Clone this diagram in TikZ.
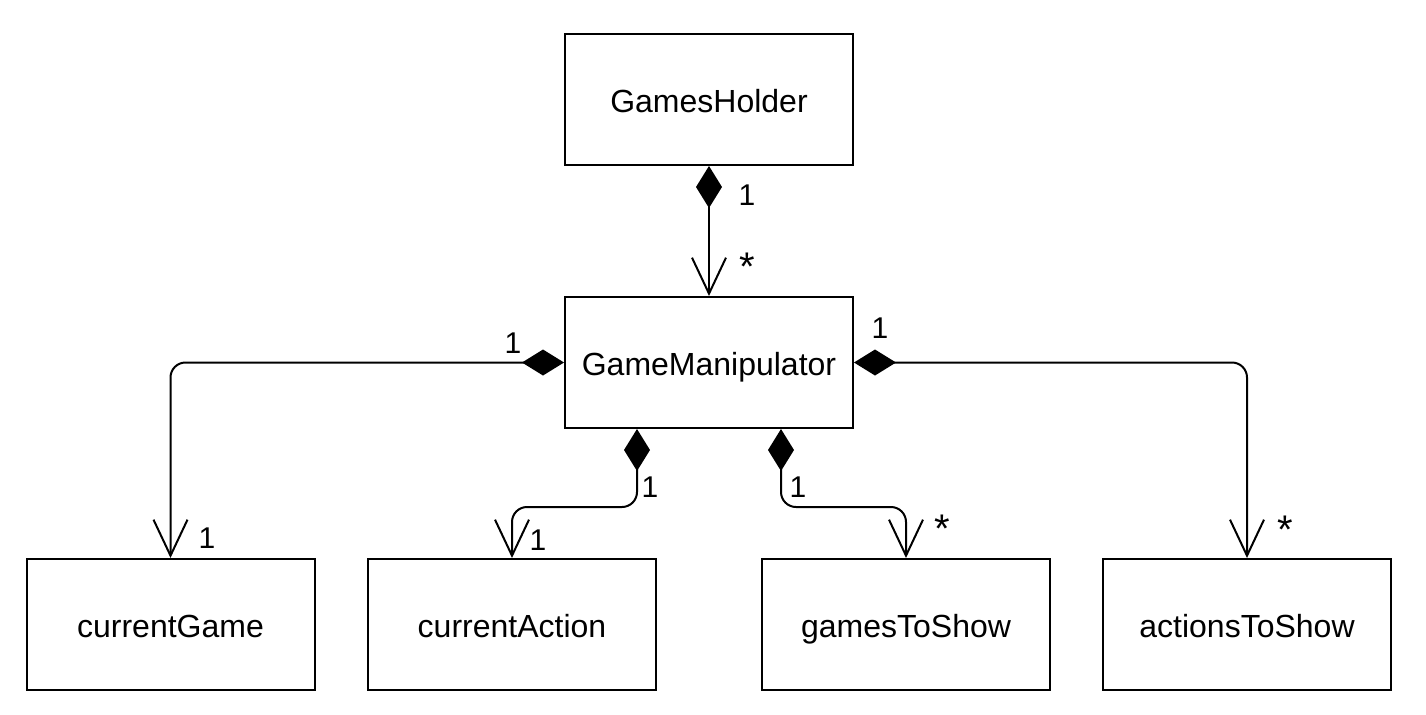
\documentclass[tikz,border=0pt]{standalone}
\usepackage{fontspec}
\setmainfont{Liberation Sans}
\usetikzlibrary{arrows.meta}
\begin{document}
\begin{tikzpicture}[x=0.5pt,y=-0.5pt,
  cls/.style={draw,line width=1pt,minimum width=144pt,minimum height=65.5pt,inner sep=0pt,text height=12.5pt,text depth=0pt,font=\fontsize{16}{19}\selectfont},
  comp/.style={line width=1pt,rounded corners=7.5pt,
    {Diamond[length=21pt,width=13pt,line width=0pt]}-{Straight Barb[length=18pt,width=17pt,line width=1pt]}},
  mult/.style={anchor=base,inner sep=0pt,font=\fontsize{15}{18}\selectfont},
  many/.style={anchor=base,inner sep=0pt,font=\fontsize{20}{24}\selectfont}]
\useasboundingbox (0,0) rectangle (1426,714);
\node[cls] (gh) at (709,99.5) {GamesHolder};
\node[cls] (gm) at (709,362.5) {GameManipulator};
\node[cls] (cg) at (170.5,624.5) {currentGame};
\node[cls] (ca) at (512,624.5) {currentAction};
\node[cls] (gs) at (906,624.5) {gamesToShow};
\node[cls] (as) at (1247,624.5) {actionsToShow};
\coordinate (mid) at (0,507);
\draw[comp] (gh.south) -- (gm.north);
\draw[comp] (gm.west) -| (cg.north);
\draw[comp] (gm.east) -| (as.north);
\draw[comp] ([xshift=-36pt]gm.south) |- (mid -| ca.north) -- (ca.north);
\draw[comp] ([xshift=36pt]gm.south) |- (mid -| gs.north) -- (gs.north);
\node[mult] (l1) at (747,205) {1};
\node[many] (l2) at (747,280) {*};
\node[mult] (l3) at (513,353) {1};
\node[mult] (l4) at (207,548) {1};
\node[mult] (l5) at (880,338) {1};
\node[many] (l6) at (1285,543) {*};
\node[mult] (l7) at (650,497) {1};
\node[mult] (l8) at (538,550) {1};
\node[mult] (l9) at (798,497) {1};
\node[many] (l10) at (942,542) {*};
\end{tikzpicture}
\end{document}
